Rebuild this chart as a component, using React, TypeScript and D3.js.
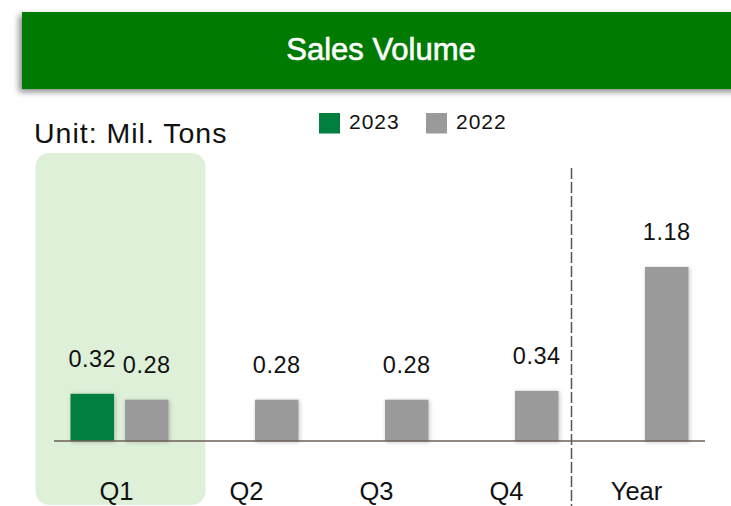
import React from "react";
import * as d3 from "d3";

const categories = ["Q1", "Q2", "Q3", "Q4", "Year"];
const seriesNames = ["2023", "2022"];
const values2023: (number | null)[] = [0.32, null, null, null, null];
const values2022: (number | null)[] = [0.28, 0.28, 0.28, 0.34, 1.18];
const seriesColors = ["#007F3F", "#9A9A9A"];
const title = "Sales Volume";
const unitLabel = "Unit: Mil. Tons";

const W = 731;
const H = 506;
const FONT = "'Liberation Sans', Arial, Helvetica, sans-serif";

export default function App() {
  const baseY = 441;
  const pxPerUnit = 147.5;
  const yMax = 1.4;
  const y = d3.scaleLinear().domain([0, yMax]).range([baseY, baseY - yMax * pxPerUnit]);
  const x0 = d3.scaleBand<string>().domain(categories).range([54.5, 704.5]);
  const x1 = d3.scaleBand<string>().domain(seriesNames).range([16, 114]).paddingInner(0.2);
  const seriesValues = [values2023, values2022];

  const bars: { key: string; x: number; y: number; w: number; h: number; color: string; v: number }[] = [];
  categories.forEach((c, i) => {
    seriesNames.forEach((s, j) => {
      const v = seriesValues[j][i];
      if (v == null) return;
      const bx = (x0(c) as number) + (x1(s) as number);
      bars.push({ key: c + s, x: bx, y: y(v), w: x1.bandwidth(), h: baseY - y(v), color: seriesColors[j], v });
    });
  });

  const q1x = x0("Q1") as number;
  const dividerX = ((x0("Q4") as number) + x0.bandwidth() + (x0("Year") as number)) / 2 - 3;

  return (
    <div style={{ position: "absolute", left: 0, top: 0 }}>
      <svg width={W} height={H} style={{ display: "block", background: "#fff" }}>
        <defs>
          <filter id="hdrShadow" x="-10%" y="-30%" width="130%" height="160%">
            <feDropShadow dx={-3} dy={3} stdDeviation={3} floodColor="#000" floodOpacity={0.45} />
          </filter>
          <filter id="barShadow" x="-30%" y="-30%" width="160%" height="160%">
            <feDropShadow dx={1} dy={1} stdDeviation={2} floodColor="#000" floodOpacity={0.25} />
          </filter>
        </defs>

        {/* header */}
        <rect x={22} y={12} width={760} height={77} fill="#007A00" filter="url(#hdrShadow)" />
        <text
          x={381}
          y={60}
          textAnchor="middle"
          fill="#fff"
          stroke="#fff"
          strokeWidth={0.6}
          fontFamily={FONT}
          fontSize={31}
        >
          {title}
        </text>

        {/* highlight box */}
        <rect x={35.5} y={153} width={170} height={352} rx={14} ry={14} fill="#DFF0D9" />

        {/* unit label */}
        <text x={34} y={143} fontFamily={FONT} fontSize={28.5} letterSpacing={1} fill="#111">
          {unitLabel}
        </text>

        {/* legend */}
        {seriesNames.map((s, i) => (
          <g key={s} transform={`translate(${319 + i * 107},113)`}>
            <rect x={0} y={0} width={21} height={20.5} fill={seriesColors[i]} />
            <text x={30} y={16} fontFamily={FONT} fontSize={21} letterSpacing={1} fill="#111">
              {s}
            </text>
          </g>
        ))}

        {/* divider */}
        <line
          x1={dividerX}
          x2={dividerX}
          y1={168}
          y2={H}
          stroke="#555"
          strokeWidth={1.5}
          strokeDasharray="11 3"
        />

        {/* bars */}
        {bars.map((b) => (
          <rect key={b.key} x={b.x} y={b.y} width={b.w} height={b.h} fill={b.color} filter="url(#barShadow)" />
        ))}

        {/* axis line */}
        <line x1={54} x2={705} y1={baseY} y2={baseY} stroke="#6E5F56" strokeWidth={1.5} />

        {/* value labels */}
        {bars.map((b) => (
          <text
            key={"l" + b.key}
            x={b.x + b.w / 2}
            y={b.y - 27}
            textAnchor="middle"
            fontFamily={FONT}
            fontSize={23.5}
            letterSpacing={0.5}
            fill="#111"
          >
            {b.v.toFixed(2)}
          </text>
        ))}

        {/* category labels */}
        {categories.map((c) => (
          <text
            key={"c" + c}
            x={(x0(c) as number) + x0.bandwidth() / 2 - 3}
            y={500}
            textAnchor="middle"
            fontFamily={FONT}
            fontSize={25.5}
            fill="#111"
          >
            {c}
          </text>
        ))}
      </svg>
    </div>
  );
}
